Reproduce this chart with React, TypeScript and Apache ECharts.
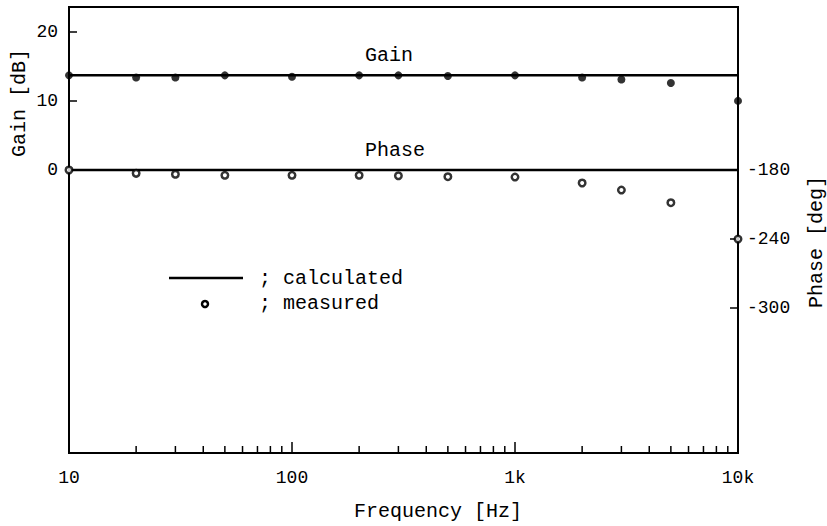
import React, { useEffect, useRef } from "react";
import * as echarts from "echarts";

// ---- data ----
const frequencies = [10, 20, 30, 50, 100, 200, 300, 500, 1000, 2000, 3000, 5000, 10000];
const gainMeasured = [13.7, 13.4, 13.4, 13.7, 13.5, 13.7, 13.7, 13.6, 13.7, 13.4, 13.1, 12.6, 10.0];
const phaseMeasured = [-180, -182.9, -183.7, -184.6, -184.6, -184.6, -185, -185.8, -186.1, -191.3, -197.4, -208.4, -240];
const calcFrequencies = [10, 10000];
const gainCalculated = [13.7, 13.7];
const phaseCalculated = [-180, -180];
const gainTicks = [0, 10, 20];
const phaseTicks = [-300, -240, -180];
const minorTickFreqs = [
  20, 30, 40, 50, 60, 70, 80, 90,
  200, 300, 400, 500, 600, 700, 800, 900,
  2000, 3000, 4000, 5000, 6000, 7000, 8000, 9000,
];

const FONT = "Liberation Mono";
const GAIN_MIN = -41;
const GAIN_MAX = 23.6;
const PHASE_MIN = -426;
const PHASE_MAX = -38.3;

export default function App() {
  const ref = useRef<HTMLDivElement>(null);

  useEffect(() => {
    if (!ref.current) return;
    const chart = echarts.init(ref.current, undefined, { renderer: "svg" });
    const black = "#000";
    const textStyleBase = { fontFamily: FONT, fill: black };

    const option: any = {
      animation: false,
      backgroundColor: "#fff",
      grid: {
        left: 69,
        right: 89,
        top: 7,
        bottom: 73,
        show: true,
        borderColor: black,
        borderWidth: 2,
        backgroundColor: "transparent",
      },
      xAxis: {
        type: "log",
        logBase: 10,
        min: 10,
        max: 10000,
        axisLine: { show: true, onZero: false, lineStyle: { color: black, width: 2 } },
        axisTick: { show: true, inside: true, length: 11, lineStyle: { color: black, width: 1.5 } },
        splitLine: { show: false },
        minorTick: { show: false },
        axisLabel: {
          color: black,
          fontFamily: FONT,
          fontSize: 18,
          margin: 16,
          formatter: (v: number) => (v >= 1000 ? `${Math.round(v / 1000)}k` : `${Math.round(v)}`),
        },
      },
      yAxis: [
        {
          type: "value",
          position: "left",
          min: GAIN_MIN,
          max: GAIN_MAX,
          axisLine: { show: true, onZero: false, lineStyle: { color: black, width: 2 } },
          axisTick: {
            show: true,
            inside: true,
            length: 8,
            customValues: gainTicks,
            lineStyle: { color: black, width: 1.5 },
          },
          axisLabel: {
            color: black,
            fontFamily: FONT,
            fontSize: 18,
            margin: 11,
            customValues: gainTicks,
          },
          splitLine: { show: false },
        },
        {
          type: "value",
          position: "right",
          min: PHASE_MIN,
          max: PHASE_MAX,
          axisLine: { show: true, onZero: false, lineStyle: { color: black, width: 2 } },
          axisTick: {
            show: true,
            inside: true,
            length: 8,
            customValues: phaseTicks,
            lineStyle: { color: black, width: 1.5 },
          },
          axisLabel: {
            color: black,
            fontFamily: FONT,
            fontSize: 18,
            margin: 9,
            customValues: phaseTicks,
          },
          splitLine: { show: false },
        },
      ],
      series: [
        {
          name: "Gain calculated",
          type: "line",
          xAxisIndex: 0,
          yAxisIndex: 0,
          data: calcFrequencies.map((f, i) => [f, gainCalculated[i]]),
          showSymbol: false,
          symbol: "none",
          lineStyle: { color: black, width: 2.5 },
          z: 3,
        },
        {
          name: "Phase calculated",
          type: "line",
          xAxisIndex: 0,
          yAxisIndex: 1,
          data: calcFrequencies.map((f, i) => [f, phaseCalculated[i]]),
          showSymbol: false,
          symbol: "none",
          lineStyle: { color: black, width: 2.5 },
          z: 3,
        },
        {
          name: "Gain measured",
          type: "scatter",
          xAxisIndex: 0,
          yAxisIndex: 0,
          clip: false,
          symbol: "circle",
          symbolSize: 8,
          itemStyle: { color: black },
          data: frequencies.map((f, i) => [f, gainMeasured[i]]),
          z: 5,
        },
        {
          name: "Phase measured",
          type: "scatter",
          xAxisIndex: 0,
          yAxisIndex: 1,
          clip: false,
          symbol: "circle",
          symbolSize: 6.5,
          itemStyle: { color: "#fff", borderColor: black, borderWidth: 2.5 },
          data: frequencies.map((f, i) => [f, phaseMeasured[i]]),
          z: 5,
        },
        {
          name: "minor ticks",
          type: "custom",
          xAxisIndex: 0,
          yAxisIndex: 0,
          clip: false,
          silent: true,
          data: minorTickFreqs.map((f) => [f, GAIN_MIN]),
          renderItem: (params: any, api: any) => {
            const p = api.coord([api.value(0), api.value(1)]);
            return {
              type: "line",
              shape: { x1: p[0], y1: p[1], x2: p[0], y2: p[1] - 7 },
              style: { stroke: black, lineWidth: 1.5 },
            };
          },
          z: 4,
        },
      ],
      graphic: [
        {
          type: "text",
          x: 389,
          y: 55,
          style: { ...textStyleBase, text: "Gain", fontSize: 20, align: "center", verticalAlign: "middle", textAlign: "center", textVerticalAlign: "middle" },
        },
        {
          type: "text",
          x: 395,
          y: 150,
          style: { ...textStyleBase, text: "Phase", fontSize: 20, align: "center", verticalAlign: "middle", textAlign: "center", textVerticalAlign: "middle" },
        },
        {
          type: "line",
          shape: { x1: 169, y1: 278, x2: 243, y2: 278 },
          style: { stroke: black, lineWidth: 2.5 },
        },
        {
          type: "circle",
          shape: { cx: 205, cy: 304, r: 3 },
          style: { fill: "#fff", stroke: black, lineWidth: 2.5 },
        },
        {
          type: "text",
          x: 259,
          y: 278,
          style: { ...textStyleBase, text: "; calculated", fontSize: 20, align: "left", verticalAlign: "middle", textAlign: "left", textVerticalAlign: "middle" },
        },
        {
          type: "text",
          x: 259,
          y: 303,
          style: { ...textStyleBase, text: "; measured", fontSize: 20, align: "left", verticalAlign: "middle", textAlign: "left", textVerticalAlign: "middle" },
        },
        {
          type: "text",
          x: 19,
          y: 103,
          rotation: Math.PI / 2,
          style: { ...textStyleBase, text: "Gain [dB]", fontSize: 20, align: "center", verticalAlign: "middle", textAlign: "center", textVerticalAlign: "middle" },
        },
        {
          type: "text",
          x: 816,
          y: 242,
          rotation: Math.PI / 2,
          style: { ...textStyleBase, text: "Phase [deg]", fontSize: 20, align: "center", verticalAlign: "middle", textAlign: "center", textVerticalAlign: "middle" },
        },
        {
          type: "text",
          x: 438,
          y: 511,
          style: { ...textStyleBase, text: "Frequency [Hz]", fontSize: 20, align: "center", verticalAlign: "middle", textAlign: "center", textVerticalAlign: "middle" },
        },
      ],
    };

    chart.setOption(option);
    return () => {
      chart.dispose();
    };
  }, []);

  return (
    <div
      ref={ref}
      style={{ position: "fixed", left: 0, top: 0, width: 827, height: 526, background: "#fff" }}
    />
  );
}
